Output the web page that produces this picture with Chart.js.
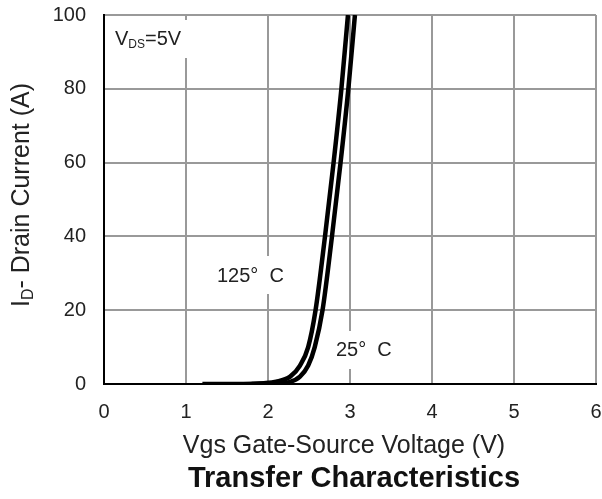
<!DOCTYPE html>
<html>
<head>
<meta charset="utf-8">
<title>Transfer Characteristics</title>
<script src="https://cdn.jsdelivr.net/npm/chart.js@4/dist/chart.umd.min.js"></script>
<style>
    body { margin: 0; background: #fff; }
    #wrap { width: 602px; height: 499px; position: relative; }
</style>
</head>
<body>
<div id="wrap"><canvas id="canvas_1"></canvas></div>
<script>
// data
const vgs125 = [1.2, 1.7, 1.95, 2.1, 2.27, 2.39, 2.49, 2.58, 2.695, 2.8, 2.895, 2.975];
const id125 = [0, 0, 0.2, 0.6, 2, 5, 10, 20, 40, 60, 80, 100];
const vgs25 = [1.8, 2.1, 2.27, 2.39, 2.49, 2.57, 2.665, 2.78, 2.885, 2.98, 3.06];
const id25 = [0, 0.2, 0.6, 2, 5, 10, 20, 40, 60, 80, 100];
const xTicks = [0, 1, 2, 3, 4, 5, 6];
const yTicks = [0, 20, 40, 60, 80, 100];

const FONT = '"Liberation Sans", Arial, sans-serif';
const TEXT = '#222';

function toPoints(xs, ys) {
    return xs.map(function(x, i) { return { x: x, y: ys[i] }; });
}

// text with a small subscript part: [main, sub, rest]
function drawSubText(ctx, x, y, parts, size, align) {
    ctx.font = size + 'px ' + FONT;
    const w0 = ctx.measureText(parts[0]).width;
    const w2 = ctx.measureText(parts[2]).width;
    ctx.font = Math.round(size * 0.62) + 'px ' + FONT;
    const w1 = ctx.measureText(parts[1]).width;
    const total = w0 + w1 + w2;
    let sx = align === 'center' ? x - total / 2 : x;
    ctx.textBaseline = 'middle';
    ctx.textAlign = 'left';
    ctx.font = size + 'px ' + FONT;
    ctx.fillText(parts[0], sx, y);
    ctx.font = Math.round(size * 0.62) + 'px ' + FONT;
    ctx.fillText(parts[1], sx + w0, y + size * 0.28);
    ctx.font = size + 'px ' + FONT;
    ctx.fillText(parts[2], sx + w0 + w1, y);
}

const labelsPlugin = {
    id: 'labels',
    beforeDatasetsDraw: function(chart) {
        const ctx = chart.ctx;
        const xs = chart.scales.x;
        ctx.save();
        ctx.fillStyle = '#fff';
        // white boxes behind in-plot notes
        ctx.fillRect(xs.left + 3, 20, 82, 38);
        ctx.fillRect(212, 256, 80, 38);
        ctx.fillRect(332, 331, 70, 38);
        ctx.fillStyle = TEXT;
        drawSubText(ctx, 115, 39, ['V', 'DS', '=5V'], 20, 'left');
        ctx.font = '20px ' + FONT;
        ctx.textAlign = 'left';
        ctx.textBaseline = 'middle';
        ctx.fillText('125\u00b0  C', 217, 276);
        ctx.fillText('25\u00b0  C', 336, 350);
        ctx.restore();
    },
    afterDraw: function(chart) {
        const ctx = chart.ctx;
        ctx.save();
        ctx.fillStyle = TEXT;
        // y axis title
        ctx.translate(22, 195);
        ctx.rotate(-Math.PI / 2);
        drawSubText(ctx, 0, 0, ['I', 'D', '- Drain Current (A)'], 25, 'center');
        ctx.restore();
        ctx.save();
        ctx.fillStyle = TEXT;
        ctx.textAlign = 'center';
        ctx.textBaseline = 'middle';
        ctx.font = '25px ' + FONT;
        ctx.fillText('Vgs Gate-Source Voltage (V)', 344, 446);
        ctx.fillStyle = '#111';
        ctx.font = 'bold 29px ' + FONT;
        ctx.fillText('Transfer Characteristics', 354, 479);
        ctx.restore();
    }
};

function lineSet(label, xs, ys) {
    return {
        label: label,
        data: toPoints(xs, ys),
        showLine: true,
        borderColor: '#000',
        borderWidth: 4.5,
        pointRadius: 0,
        cubicInterpolationMode: 'monotone',
        fill: false
    };
}

const ctx = document.getElementById('canvas_1').getContext('2d');
window.canvas_1Chart = new Chart(ctx, {
    type: 'scatter',
    data: {
        datasets: [
            lineSet('125\u00b0 C', vgs125, id125),
            lineSet('25\u00b0 C', vgs25, id25)
        ]
    },
    options: {
        responsive: true,
        maintainAspectRatio: false,
        animation: false,
        events: [],
        layout: { padding: { top: 15, right: 6, left: 0, bottom: 0 } },
        plugins: {
            legend: { display: false },
            tooltip: { enabled: false }
        },
        scales: {
            x: {
                type: 'linear',
                min: 0,
                max: 6,
                afterBuildTicks: function(scale) {
                    scale.ticks = xTicks.map(function(v) { return { value: v }; });
                },
                afterFit: function(scale) {
                    scale.height = 115;
                    scale.paddingLeft = 0;
                    scale.paddingRight = 0;
                },
                ticks: { color: TEXT, font: { family: FONT, size: 20 }, padding: 16 },
                grid: { color: '#999', lineWidth: 2, drawTicks: false },
                border: { color: '#000', width: 2 }
            },
            y: {
                type: 'linear',
                min: 0,
                max: 100,
                afterBuildTicks: function(scale) {
                    scale.ticks = yTicks.map(function(v) { return { value: v }; });
                },
                afterFit: function(scale) {
                    scale.width = 104;
                    scale.paddingTop = 0;
                    scale.paddingBottom = 0;
                },
                ticks: { color: TEXT, font: { family: FONT, size: 20 }, padding: 18 },
                grid: { color: '#999', lineWidth: 2, drawTicks: false },
                border: { color: '#000', width: 2 }
            }
        }
    },
    plugins: [labelsPlugin]
});
</script>
</body>
</html>
